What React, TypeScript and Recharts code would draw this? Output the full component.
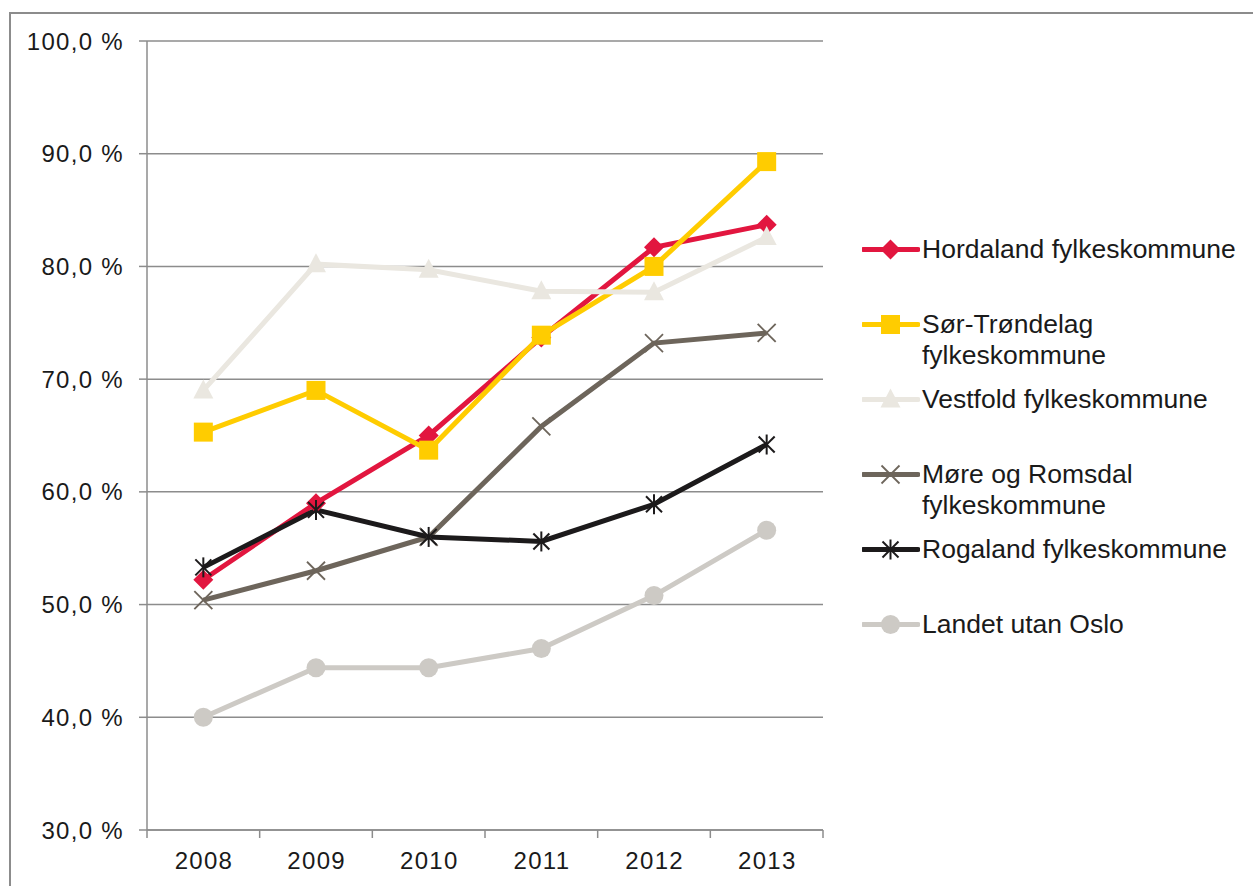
import { LineChart, Line, XAxis, YAxis, CartesianGrid } from "recharts"

const years = ["2008", "2009", "2010", "2011", "2012", "2013"]
const hordaland = [52.2, 59.0, 65.0, 73.7, 81.7, 83.7]
const sorTrondelag = [65.3, 69.0, 63.7, 73.9, 80.0, 89.3]
const vestfold = [69.0, 80.2, 79.7, 77.8, 77.7, 82.6]
const moreRomsdal = [50.4, 53.0, 56.0, 65.8, 73.2, 74.1]
const rogaland = [53.3, 58.4, 56.0, 55.6, 58.9, 64.2]
const landet = [40.0, 44.4, 44.4, 46.1, 50.8, 56.6]
const yTicks = [30, 40, 50, 60, 70, 80, 90, 100]

type Shape = "diamond" | "square" | "triangle" | "x" | "star" | "circle"

const SERIES: { key: string; name: string; color: string; shape: Shape; values: number[] }[] = [
  { key: "hordaland", name: "Hordaland fylkeskommune", color: "#e2163f", shape: "diamond", values: hordaland },
  { key: "sorTrondelag", name: "Sør-Trøndelag fylkeskommune", color: "#ffcc00", shape: "square", values: sorTrondelag },
  { key: "vestfold", name: "Vestfold fylkeskommune", color: "#eae7e0", shape: "triangle", values: vestfold },
  { key: "moreRomsdal", name: "Møre og Romsdal fylkeskommune", color: "#6d655b", shape: "x", values: moreRomsdal },
  { key: "rogaland", name: "Rogaland fylkeskommune", color: "#1c1a1b", shape: "star", values: rogaland },
  { key: "landet", name: "Landet utan Oslo", color: "#cdcac5", shape: "circle", values: landet },
]

const data = years.map((year, i) => {
  const row: Record<string, string | number> = { year }
  for (const s of SERIES) row[s.key] = s.values[i]
  return row
})

const FONT = "'Liberation Sans', Arial, sans-serif"
const AXIS = "#8c8c8c"
const TEXT = "#1a1a1a"
const TICK_SIZE = 8
const TICK_MARGIN = 14
// axis labels in the original are a bit smaller but widely spaced
const AXIS_FONT = 24
const AXIS_SPACING = 1.3

function Marker({ shape, color, cx, cy }: { shape: Shape; color: string; cx: number; cy: number }) {
  switch (shape) {
    case "diamond":
      return <polygon points={`${cx},${cy - 10} ${cx + 10},${cy} ${cx},${cy + 10} ${cx - 10},${cy}`} fill={color} />
    case "square":
      return <rect x={cx - 9.5} y={cy - 9.5} width={19} height={19} fill={color} />
    case "triangle":
      return <polygon points={`${cx},${cy - 11} ${cx + 10},${cy + 8} ${cx - 10},${cy + 8}`} fill={color} />
    case "x":
      return (
        <g stroke={color} strokeWidth={1.8}>
          <line x1={cx - 9} y1={cy - 9} x2={cx + 9} y2={cy + 9} />
          <line x1={cx - 9} y1={cy + 9} x2={cx + 9} y2={cy - 9} />
        </g>
      )
    case "star":
      return (
        <g stroke={color} strokeWidth={2}>
          <line x1={cx - 8} y1={cy - 8} x2={cx + 8} y2={cy + 8} />
          <line x1={cx - 8} y1={cy + 8} x2={cx + 8} y2={cy - 8} />
          <line x1={cx} y1={cy - 10} x2={cx} y2={cy + 10} />
        </g>
      )
    default:
      return <circle cx={cx} cy={cy} r={9.5} fill={color} />
  }
}

function makeDot(shape: Shape, color: string) {
  return (props: any) => {
    const { cx, cy, key } = props
    if (cx == null || cy == null) return <g key={key} />
    return (
      <g key={key}>
        <Marker shape={shape} color={color} cx={cx} cy={cy} />
      </g>
    )
  }
}

function YearTick(props: any) {
  const { x, y, payload, index, visibleTicksCount } = props
  const half = payload?.offset ?? 0
  const axisY = y - TICK_SIZE - TICK_MARGIN
  const isLast = index === (visibleTicksCount ?? years.length) - 1
  return (
    <g>
      <line x1={x - half} y1={axisY} x2={x - half} y2={axisY + TICK_SIZE} stroke={AXIS} strokeWidth={1.5} />
      {isLast && <line x1={x + half} y1={axisY} x2={x + half} y2={axisY + TICK_SIZE} stroke={AXIS} strokeWidth={1.5} />}
      <text
        x={x + AXIS_SPACING / 2}
        y={y}
        dy="0.71em"
        textAnchor="middle"
        fill={TEXT}
        fontSize={AXIS_FONT}
        fontFamily={FONT}
        letterSpacing={AXIS_SPACING}
      >
        {payload.value}
      </text>
    </g>
  )
}

function ChartLegend() {
  return (
    <div style={{ position: "absolute", left: 862, top: 233.5, fontFamily: FONT, fontSize: 26.5, color: TEXT }}>
      {SERIES.map((s) => (
        <div key={s.key} style={{ height: 75.2, display: "flex", alignItems: "flex-start" }}>
          <svg width={58} height={31} style={{ flex: "none" }}>
            <line x1={1} y1={15.5} x2={56} y2={15.5} stroke={s.color} strokeWidth={5} strokeLinecap="round" />
            <Marker shape={s.shape} color={s.color} cx={28.5} cy={15.5} />
          </svg>
          <div style={{ width: 330, lineHeight: "31px", marginLeft: 2 }}>{s.name}</div>
        </div>
      ))}
    </div>
  )
}

export default function App() {
  return (
    <div style={{ position: "absolute", left: 0, top: 0, width: 1253, height: 886, background: "#fff", overflow: "hidden" }}>
      <div
        style={{
          position: "absolute",
          left: 9,
          top: 12,
          width: 1260,
          height: 900,
          borderLeft: `2px solid ${AXIS}`,
          borderTop: `2px solid ${AXIS}`,
        }}
      />
      <div style={{ position: "absolute", left: 0, top: 0 }}>
        <LineChart width={1253} height={886} data={data} margin={{ top: 41, right: 430, bottom: 6, left: 7 }}>
          <CartesianGrid vertical={false} stroke={AXIS} strokeWidth={1.5} />
          <XAxis
            dataKey="year"
            scale="band"
            height={50}
            interval={0}
            axisLine={{ stroke: AXIS, strokeWidth: 1.5 }}
            tickLine={false}
            tickSize={TICK_SIZE}
            tickMargin={TICK_MARGIN}
            tick={<YearTick />}
          />
          <YAxis
            width={140}
            domain={[30, 100]}
            ticks={yTicks}
            interval={0}
            tickFormatter={(v: number) => `${v.toFixed(1).replace(".", ",")} %`}
            axisLine={{ stroke: AXIS, strokeWidth: 1.5 }}
            tickLine={{ stroke: AXIS, strokeWidth: 1.5 }}
            tickSize={TICK_SIZE}
            tickMargin={15}
            tick={{ fill: TEXT, fontSize: AXIS_FONT, fontFamily: FONT, letterSpacing: AXIS_SPACING }}
          />
          {SERIES.map((s) => (
            <Line
              key={s.key}
              dataKey={s.key}
              name={s.name}
              type="linear"
              stroke={s.color}
              strokeWidth={5}
              dot={makeDot(s.shape, s.color)}
              activeDot={false}
              isAnimationActive={false}
            />
          ))}
        </LineChart>
      </div>
      <ChartLegend />
    </div>
  )
}
